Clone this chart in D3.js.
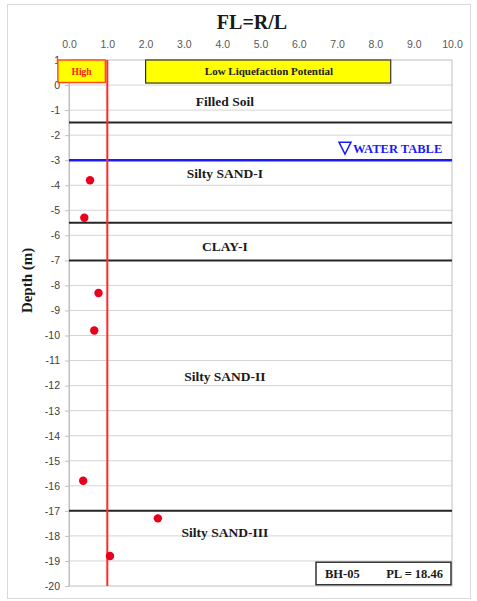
<!DOCTYPE html>
<html>
<head>
<meta charset="utf-8">
<script src="https://cdn.jsdelivr.net/npm/d3@7/dist/d3.min.js"></script>
<style>
  html, body { margin: 0; padding: 0; background: #fff; }
  svg { display: block; }
</style>
</head>
<body>
<svg id="chart" width="477" height="601"></svg>
<script>
// Factor of safety against liquefaction (FL) versus depth, borehole BH-05
const fsValues = [0.55, 0.40, 0.77, 0.66, 0.37, 2.32, 1.07];
const depths   = [-3.8, -5.3, -8.3, -9.8, -15.8, -17.3, -18.8];

const xTicks = [0, 1, 2, 3, 4, 5, 6, 7, 8, 9, 10];
const yTicks = d3.range(1, -21, -1);

// Soil layer boundaries and the groundwater level
const layerBoundaries = [-1.5, -5.5, -7, -17];
const waterTable = -3;
const criticalFL = 1.0;

// Soil layer names with label depths
const layerNames  = ["Filled Soil", "Silty SAND-I", "CLAY-I", "Silty SAND-II", "Silty SAND-III"];
const layerLabelY = [-0.65, -3.55, -6.45, -11.65, -17.85];

const boreholeId = "BH-05";
const plValue = 18.46;

const svg = d3.select("#chart");

const x = d3.scaleLinear().domain([0, 10]).range([69, 452]);
const y = d3.scaleLinear().domain([1, -20]).range([60, 586]);

const serif = "'Liberation Serif', 'Times New Roman', serif";
const sans = "'Liberation Sans', Arial, sans-serif";

// outer frame
svg.append("rect")
  .attr("x", 7.5).attr("y", 4.5).attr("width", 463).attr("height", 594)
  .attr("fill", "#fff").attr("stroke", "#d9d9d9").attr("stroke-width", 1);

// title
svg.append("text")
  .attr("x", 252).attr("y", 29)
  .attr("text-anchor", "middle")
  .attr("font-family", serif).attr("font-weight", "bold").attr("font-size", 20)
  .attr("fill", "#1a1a1a")
  .text("FL=R/L");

// horizontal gridlines
svg.append("g").selectAll("line")
  .data(yTicks.filter(d => d < 1 && d > -20))
  .join("line")
  .attr("x1", x(0)).attr("x2", x(10))
  .attr("y1", d => y(d)).attr("y2", d => y(d))
  .attr("stroke", "#d4d4d4").attr("stroke-width", 1);

// plot frame
svg.append("rect")
  .attr("x", x(0)).attr("y", y(1))
  .attr("width", x(10) - x(0)).attr("height", y(-20) - y(1))
  .attr("fill", "none").attr("stroke", "#bfbfbf").attr("stroke-width", 1);

// top x axis
const xAxis = d3.axisTop(x).tickValues(xTicks).tickFormat(d3.format(".1f")).tickSize(0).tickPadding(8);
const gx = svg.append("g").attr("transform", `translate(0,${y(1) - 4})`).call(xAxis);
gx.select(".domain").remove();
gx.selectAll("text").attr("font-family", sans).attr("font-size", 10.5).attr("fill", "#595959");

// left y axis
const yAxis = d3.axisLeft(y).tickValues(yTicks).tickFormat(d3.format("d")).tickSize(4).tickPadding(5);
const gy = svg.append("g").attr("transform", `translate(${x(0)},0)`).call(yAxis);
gy.select(".domain").attr("stroke", "#bfbfbf");
gy.selectAll(".tick line").attr("stroke", "#bfbfbf");
gy.selectAll("text").attr("font-family", sans).attr("font-size", 10.5).attr("fill", "#404040")
  .text(d => d < 0 ? "-" + Math.abs(d) : d);

// y axis title
svg.append("text")
  .attr("transform", `translate(32,${y(-7.8)}) rotate(-90)`)
  .attr("text-anchor", "middle")
  .attr("font-family", serif).attr("font-weight", "bold").attr("font-size", 15)
  .attr("fill", "#1a1a1a")
  .text("Depth (m)");

// layer boundaries
svg.append("g").selectAll("line")
  .data(layerBoundaries)
  .join("line")
  .attr("x1", x(0)).attr("x2", x(10))
  .attr("y1", d => y(d)).attr("y2", d => y(d))
  .attr("stroke", "#262626").attr("stroke-width", 2);

// water table
svg.append("line")
  .attr("x1", x(0)).attr("x2", x(10))
  .attr("y1", y(waterTable)).attr("y2", y(waterTable))
  .attr("stroke", "#1a1aff").attr("stroke-width", 2.5);

const wtX = 339;
const wtY = y(waterTable) - 7;
svg.append("path")
  .attr("d", `M${wtX},${wtY - 11} L${wtX + 12},${wtY - 11} L${wtX + 6},${wtY + 1} Z`)
  .attr("fill", "none").attr("stroke", "#1a1aff").attr("stroke-width", 1.5);
svg.append("text")
  .attr("x", wtX + 14).attr("y", wtY)
  .attr("font-family", serif).attr("font-weight", "bold").attr("font-size", 12.5)
  .attr("fill", "#1a1aff")
  .text("WATER TABLE");

// layer names
svg.append("g").selectAll("text")
  .data(layerNames)
  .join("text")
  .attr("x", x(4.07))
  .attr("y", (d, i) => y(layerLabelY[i]) + 4.5)
  .attr("text-anchor", "middle")
  .attr("font-family", serif).attr("font-weight", "bold").attr("font-size", 13.5)
  .attr("fill", "#1a1a1a")
  .text(d => d);

// liquefaction potential boxes
svg.append("rect")
  .attr("x", x(-0.29)).attr("y", y(1))
  .attr("width", x(0.95) - x(-0.29)).attr("height", y(0.1) - y(1))
  .attr("fill", "#ffff00").attr("stroke", "#ff4d1a").attr("stroke-width", 1.5);
svg.append("text")
  .attr("x", (x(-0.29) + x(0.95)) / 2).attr("y", y(0.55) + 3.5)
  .attr("text-anchor", "middle")
  .attr("font-family", serif).attr("font-weight", "bold").attr("font-size", 9.5)
  .attr("fill", "#ff1a1a")
  .text("High");

svg.append("rect")
  .attr("x", x(2.0)).attr("y", y(1))
  .attr("width", x(8.4) - x(2.0)).attr("height", y(0.08) - y(1))
  .attr("fill", "#ffff00").attr("stroke", "#333").attr("stroke-width", 1.2);
svg.append("text")
  .attr("x", 269).attr("y", y(0.55) + 4)
  .attr("text-anchor", "middle")
  .attr("font-family", serif).attr("font-weight", "bold").attr("font-size", 11)
  .attr("fill", "#1a1a1a")
  .text("Low Liquefaction Potential");

// FL = 1.0 critical line
svg.append("line")
  .attr("x1", x(criticalFL)).attr("x2", x(criticalFL))
  .attr("y1", y(1)).attr("y2", y(-20))
  .attr("stroke", "#ff2a2a").attr("stroke-width", 2);

// data points
svg.append("g").selectAll("circle")
  .data(fsValues.map((v, i) => ({ fl: v, depth: depths[i] })))
  .join("circle")
  .attr("cx", d => x(d.fl)).attr("cy", d => y(d.depth))
  .attr("r", 4.2).attr("fill", "#e8001c");

// borehole summary box
svg.append("rect")
  .attr("x", 316).attr("y", y(-19.05))
  .attr("width", 135).attr("height", y(-19.95) - y(-19.05))
  .attr("fill", "#fff").attr("stroke", "#333").attr("stroke-width", 1.5);
svg.append("text")
  .attr("x", 325).attr("y", y(-19.5) + 4.5)
  .attr("font-family", serif).attr("font-weight", "bold").attr("font-size", 12.5)
  .attr("fill", "#1a1a1a")
  .text(boreholeId);
svg.append("text")
  .attr("x", 443).attr("y", y(-19.5) + 4.5)
  .attr("text-anchor", "end")
  .attr("font-family", serif).attr("font-weight", "bold").attr("font-size", 12.5)
  .attr("fill", "#1a1a1a")
  .text(`PL = ${plValue.toFixed(2)}`);
</script>
</body>
</html>
